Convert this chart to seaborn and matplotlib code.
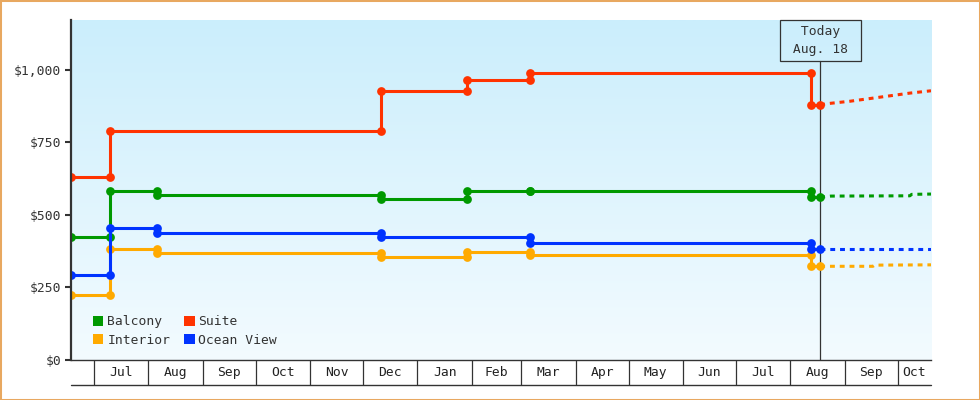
import pandas as pd
import numpy as np
import matplotlib
matplotlib.use('Agg')
import matplotlib.pyplot as plt
import matplotlib.dates as mdates
from matplotlib.patches import Patch, Rectangle
from matplotlib.ticker import FuncFormatter
import seaborn as sns

########################################
# DATA
########################################
series_names = ["Interior", "Balcony", "Suite", "Ocean View"]
series_colors = {"Balcony": "#009900", "Interior": "#ffaa00",
                 "Suite": "#ff3300", "Ocean View": "#0033ff"}

start_date = "2014-06-18"
today_date = "2015-08-18"
end_date = "2015-10-20"

# price history (date of change, new price)
balcony_dates = ["2014-06-18", "2014-07-10", "2014-08-06", "2014-12-11",
                 "2015-01-29", "2015-03-06", "2015-08-13"]
balcony_prices = [423, 583, 568, 554, 583, 583, 561]

interior_dates = ["2014-06-18", "2014-07-10", "2014-08-06", "2014-12-11",
                  "2015-01-29", "2015-03-06", "2015-08-13"]
interior_prices = [223, 383, 368, 354, 371, 361, 323]

suite_dates = ["2014-06-18", "2014-07-10", "2014-12-11", "2015-01-29",
               "2015-03-06", "2015-08-13"]
suite_prices = [630, 790, 928, 965, 990, 879]

ocean_dates = ["2014-06-18", "2014-07-10", "2014-08-06", "2014-12-11",
               "2015-03-06", "2015-08-13"]
ocean_prices = [292, 454, 437, 423, 402, 382]

# forecast after today
balcony_fc_dates = ["2015-08-18", "2015-08-24", "2015-10-08", "2015-10-09", "2015-10-20"]
balcony_fc_prices = [561, 565, 566, 571, 572]

interior_fc_dates = ["2015-08-18", "2015-09-17", "2015-09-18", "2015-10-20"]
interior_fc_prices = [323, 323, 327, 328]

suite_fc_dates = ["2015-08-18", "2015-08-21", "2015-09-04", "2015-09-21",
                  "2015-10-08", "2015-10-20"]
suite_fc_prices = [879, 883, 892, 906, 920, 928]

ocean_fc_dates = ["2015-08-18", "2015-10-20"]
ocean_fc_prices = [382, 382]

y_ticks = [0, 250, 500, 750, 1000]

########################################
# BUILD STEP TABLES
########################################
history = {"Balcony": (balcony_dates, balcony_prices),
           "Interior": (interior_dates, interior_prices),
           "Suite": (suite_dates, suite_prices),
           "Ocean View": (ocean_dates, ocean_prices)}
forecast = {"Balcony": (balcony_fc_dates, balcony_fc_prices),
            "Interior": (interior_fc_dates, interior_fc_prices),
            "Suite": (suite_fc_dates, suite_fc_prices),
            "Ocean View": (ocean_fc_dates, ocean_fc_prices)}

rows = []
for name in series_names:
    dates, prices = history[name]
    rows.append((name, dates[0], prices[0]))
    for i in range(1, len(dates)):
        rows.append((name, dates[i], prices[i - 1]))
        rows.append((name, dates[i], prices[i]))
    rows.append((name, today_date, prices[-1]))
df_hist = pd.DataFrame(rows, columns=["Room", "Date", "Price"])
df_hist["Date"] = pd.to_datetime(df_hist["Date"])

rows = []
for name in series_names:
    dates, prices = forecast[name]
    for d, p in zip(dates, prices):
        rows.append((name, d, p))
df_fc = pd.DataFrame(rows, columns=["Room", "Date", "Price"])
df_fc["Date"] = pd.to_datetime(df_fc["Date"])

########################################
# PLOT
########################################
sns.set_theme(style="white")
plt.rcParams['font.family'] = ['DejaVu Sans Mono']
fs = 9.4
ink = "#333333"

fig = plt.figure(figsize=(9.8, 4), dpi=100)
pos = [71 / 980, 40 / 400, 860 / 980, 340 / 400]

# gradient background
bg = fig.add_axes(pos, zorder=0)
grad = np.linspace(0, 1, 256).reshape(-1, 1)
top = np.array([203, 238, 252]) / 255
bot = np.array([243, 251, 255]) / 255
img = top[None, None, :] * (1 - grad[:, :, None]) + bot[None, None, :] * grad[:, :, None]
bg.imshow(img, aspect='auto', extent=[0, 1, 0, 1])
bg.axis('off')

ax = fig.add_axes(pos, zorder=1)
ax.set_facecolor('none')

sns.lineplot(data=df_hist, x="Date", y="Price", hue="Room", hue_order=series_names,
             palette=series_colors, estimator=None, sort=False, legend=False,
             lw=2.2, marker='o', markersize=6.3, markeredgewidth=0, ax=ax)
sns.lineplot(data=df_fc, x="Date", y="Price", hue="Room", hue_order=series_names,
             palette=series_colors, estimator=None, sort=False, legend=False,
             lw=2.2, linestyle=(0, (1.6, 1.6)), ax=ax)

x0, x1 = pd.Timestamp(start_date), pd.Timestamp(end_date)
ax.set_xlim(x0, x1)
ax.set_ylim(0, 1172)
ax.set_xlabel("")
ax.set_ylabel("")

# y axis
ax.set_yticks(y_ticks)
ax.yaxis.set_major_formatter(FuncFormatter(lambda v, _: "${:,.0f}".format(v)))
ax.tick_params(axis='y', which='major', left=True, length=4, width=1.5, color=ink,
               labelsize=fs, labelcolor=ink, pad=3)
for s in ["top", "right"]:
    ax.spines[s].set_visible(False)
ax.spines["left"].set_color(ink)
ax.spines["left"].set_linewidth(1.6)
ax.spines["bottom"].set_color(ink)
ax.spines["bottom"].set_linewidth(1.0)

# x axis: month cells
ax.xaxis.set_major_locator(matplotlib.ticker.NullLocator())
ax.xaxis.set_minor_locator(mdates.MonthLocator())
ax.tick_params(axis='x', which='minor', bottom=True, length=18, width=0.9,
               color=ink, direction='out')
cell_h = 25 / 340
ax.plot([0, 1], [-cell_h, -cell_h], transform=ax.transAxes, clip_on=False,
        color=ink, lw=1.0)
month_starts = pd.date_range(x0.to_period('M').to_timestamp(), x1, freq='MS')
xtrans = ax.get_xaxis_transform()
for ms in month_starts:
    me = ms + pd.offsets.MonthBegin(1)
    a, b = max(ms, x0), min(me, x1)
    if (b - a).days < 15:
        continue
    ax.text(a + (b - a) / 2, -cell_h / 2, ms.strftime("%b"), transform=xtrans,
            ha='center', va='center', fontsize=fs, color="#222222")

# today marker
today = pd.Timestamp(today_date)
ax.axvline(today, ymin=0, ymax=(360 - 60.7) / 340, color=ink, lw=0.9, zorder=1)
ax.annotate(" Today \n Aug. 18 ", xy=(today, 1), xycoords=('data', 'axes fraction'),
            xytext=(0, -3.6), textcoords='offset points', ha='center', va='top',
            fontsize=fs, color=ink, linespacing=1.5, multialignment='center',
            bbox=dict(boxstyle='square,pad=0.38', fc='none', ec=ink, lw=0.9))

# legend
handles = [Patch(facecolor=series_colors[n], edgecolor='none', label=n)
           for n in ["Balcony", "Interior", "Suite", "Ocean View"]]
ax.legend(handles=handles, ncol=2, loc='lower left', bbox_to_anchor=(22 / 860, 13 / 340),
          frameon=False, fontsize=fs, handlelength=0.8, handleheight=0.8,
          handletextpad=0.3, columnspacing=1.05, labelspacing=0.45,
          borderpad=0, borderaxespad=0, labelcolor=ink)

# outer border
fig.add_artist(Rectangle((0, 0), 1, 1, transform=fig.transFigure, fill=False,
                         ec="#e8a860", lw=2.2))

plt.savefig("out.png", dpi=100)
plt.close()
